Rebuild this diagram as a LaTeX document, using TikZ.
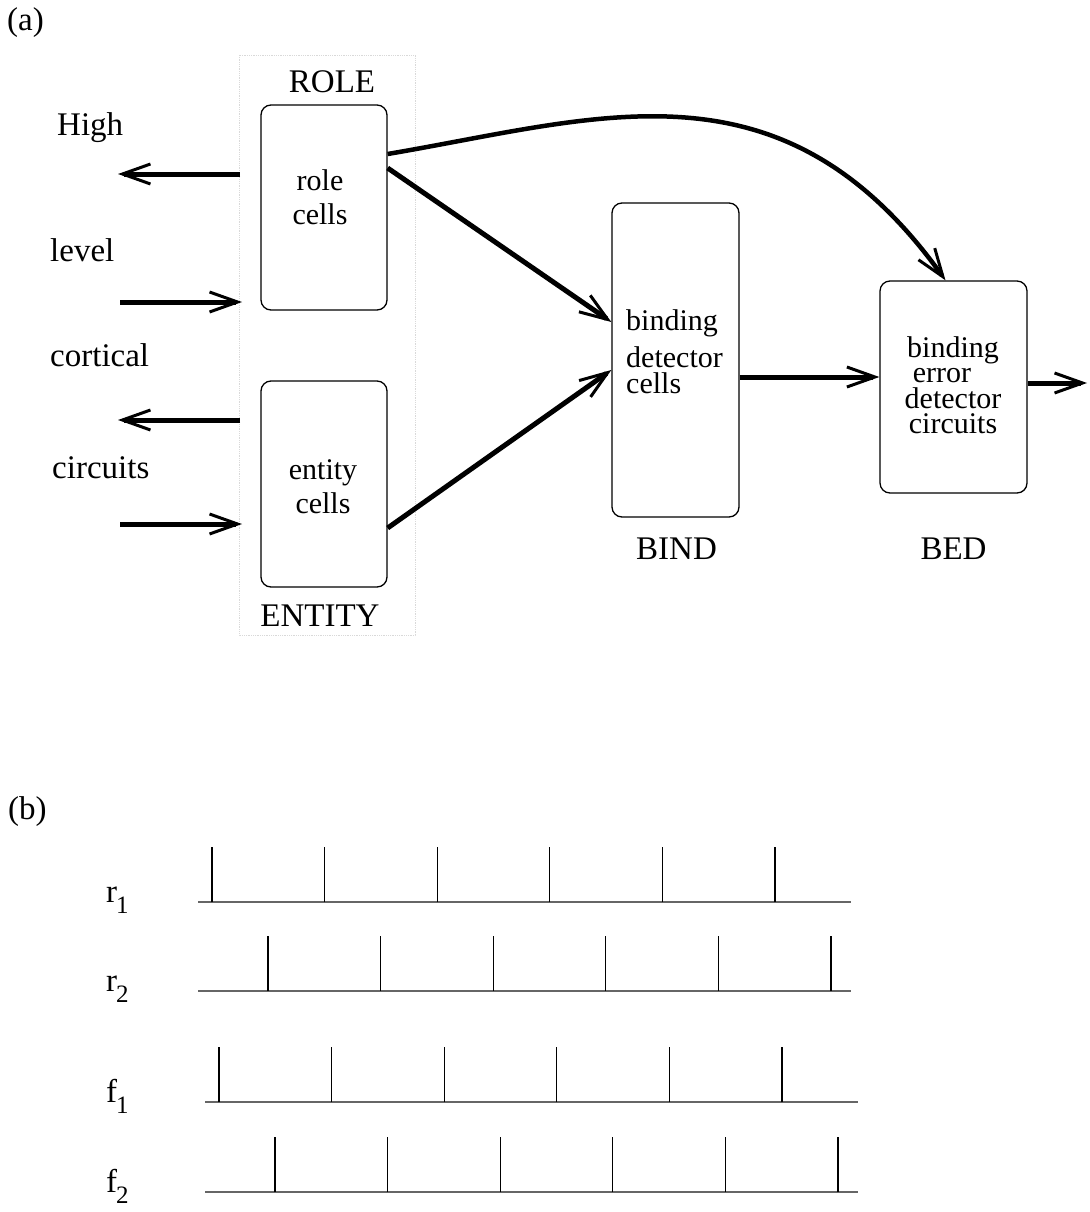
\documentclass[tikz,border=0pt]{standalone}
\usepackage{fontspec}
\setmainfont{Liberation Serif}
\usetikzlibrary{arrows.meta,positioning}

% label of one spike train, e.g. r_1
\newcommand\trainlbl[2]{#1\kern-1pt\raisebox{-11pt}{\fontsize{25}{28}\selectfont #2}}

\begin{document}
\begin{tikzpicture}[x=1pt, y=-1pt,
                    cell/.style={draw, line width=1.3pt, rounded corners=10pt, inner sep=0pt},
                    txt/.style={inner sep=0pt, align=center, font=\fontsize{30}{34}\selectfont},
                    lbl/.style={inner sep=0pt, font=\fontsize{33}{38}\selectfont},
                    sig/.style={line width=5pt, -{Straight Barb[length=28pt,width=20pt,line width=3pt]}},
                    train/.style={line width=1.3pt, black!60},
                    spike/.style={line width=1.1pt}]
    \useasboundingbox (0,0) rectangle (1089,1212);

   % (a) cortical circuits
   \node[lbl, anchor=west] (tag_a) at (7,23) {(a)};
   \draw[densely dotted, black!15, line width=0.8pt] (239,55) rectangle (415,635);

   \node[cell, minimum width=126pt, minimum height=205pt] (role) at (324,207.5) {};
   \node[cell, minimum width=126pt, minimum height=206pt] (entity) at (324,484) {};
   \node[cell, minimum width=127pt, minimum height=314pt] (bind) at (675.5,360) {};
   \node[cell, minimum width=147pt, minimum height=212pt] (bed) at (953.5,387) {};

   \node[lbl] (role_lbl) [above=11pt of role, xshift=8pt] {ROLE};
   \node[lbl] (entity_lbl) [below=17pt of entity, xshift=-4pt] {ENTITY};
   \node[lbl] (bind_lbl) [below=20pt of bind, xshift=1pt] {BIND};
   \node[lbl] (bed_lbl) [below=44pt of bed] {BED};

   \node[txt] (role_txt) at (320,197) {role\\cells};
   \node[txt] (entity_txt) at (323,487) {entity\\cells};
   \node[txt, align=left, anchor=west] (bind_txt) at (626,352) {binding\\[3pt]detector\\[-8pt]cells};
   \node[txt, font=\fontsize{30}{25.5}\selectfont] (bed_txt) at (953,385)
        {binding\\error\rule{22pt}{0pt}\\detector\\circuits};

   \node[lbl, anchor=west] (high) at (57,128) {High};
   \node[lbl, anchor=west] (level) at (50,250) {level};
   \node[lbl, anchor=west] (cortical) at (50,355) {cortical};
   \node[lbl, anchor=west] (circuits) at (52,468) {circuits};

   % loose ends of the arrows
   \coordinate (hi_in) at (240,174);   \coordinate (hi_out) at (118,174);
   \coordinate (lv_in) at (120,302);   \coordinate (lv_out) at (242,302);
   \coordinate (co_in) at (240,420);   \coordinate (co_out) at (118,420);
   \coordinate (ci_in) at (120,524);   \coordinate (ci_out) at (242,524);
   \coordinate (bed_out) at (1087,383);

   \path[sig]
    (hi_in) edge (hi_out)
    (lv_in) edge (lv_out)
    (co_in) edge (co_out)
    (ci_in) edge (ci_out)
    ([yshift=39.5pt]role.east) edge ([yshift=38pt]bind.west)
    ([yshift=-44pt]entity.east) edge ([yshift=-10pt]bind.west)
    ([yshift=-17pt]bind.east) edge ([yshift=10pt]bed.west)
    ([yshift=4pt]bed.east) edge (bed_out);
   \draw[sig, line width=4.5pt] ([yshift=53.5pt]role.east)
        .. controls (600,118) and (782,52) .. ([xshift=-8pt]bed.north);

   % (b) spike trains
   \node[lbl, anchor=west] (tag_b) at (8,812) {(b)};
   \foreach \n/\i/\y/\s/\t in {r/1/902/198/212, r/2/991/198/268,
                                f/1/1102/205/219, f/2/1192/205/275} {
     \node[lbl, anchor=base west] (\n\i) at (106,\y) {\trainlbl{\n}{\i}};
     \draw[train] (\s,\y) -- (\s+653,\y);
     \foreach \k in {0,...,5}
       \draw[spike] (\t+112.6*\k,\y) -- ++(0,-55);
   }
\end{tikzpicture}
\end{document}
